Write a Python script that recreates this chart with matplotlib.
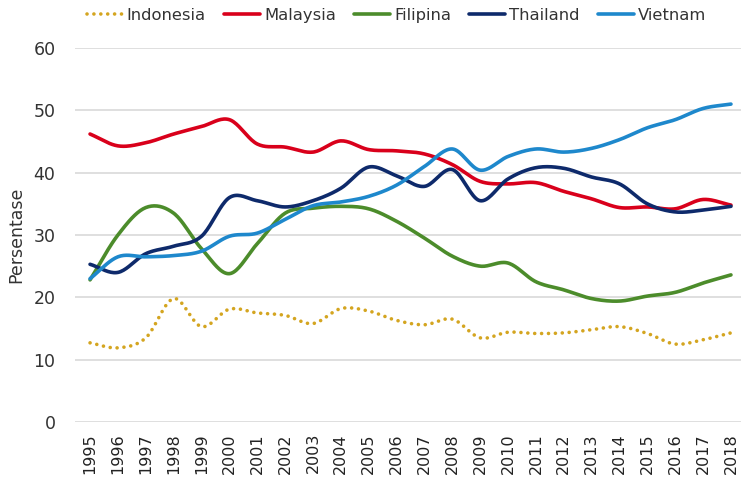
import matplotlib
matplotlib.use("Agg")
import matplotlib.pyplot as plt
import numpy as np

years = list(range(1995, 2019))

indonesia = [12.7, 11.9, 13.5, 19.8, 15.3, 18.1, 17.5, 17.1, 15.8, 18.2, 17.8, 16.3,
             15.6, 16.5, 13.5, 14.4, 14.2, 14.3, 14.8, 15.3, 14.2, 12.5, 13.2, 14.3]
malaysia = [46.2, 44.3, 44.8, 46.2, 47.4, 48.5, 44.6, 44.1, 43.3, 45.1, 43.7, 43.5,
            43.0, 41.3, 38.6, 38.2, 38.4, 37.0, 35.8, 34.4, 34.5, 34.2, 35.7, 34.8]
filipina = [22.8, 30.0, 34.4, 33.5, 27.8, 23.8, 28.6, 33.5, 34.3, 34.6, 34.2, 32.2,
            29.5, 26.6, 25.0, 25.5, 22.5, 21.2, 19.8, 19.4, 20.2, 20.8, 22.3, 23.6]
thailand = [25.3, 24.0, 27.0, 28.2, 29.8, 36.0, 35.5, 34.5, 35.5, 37.5, 40.9, 39.5,
            37.8, 40.5, 35.5, 39.0, 40.8, 40.7, 39.3, 38.2, 35.0, 33.7, 34.0, 34.6]
vietnam = [23.0, 26.5, 26.5, 26.7, 27.4, 29.8, 30.3, 32.5, 34.7, 35.3, 36.2, 38.0,
           41.0, 43.8, 40.4, 42.6, 43.8, 43.3, 43.9, 45.3, 47.2, 48.5, 50.3, 51.0]


def smooth(x, y, n=20):
    # catmull-rom like excel "smoothed line"
    x = np.asarray(x, float)
    y = np.asarray(y, float)
    px = np.concatenate([[2 * x[0] - x[1]], x, [2 * x[-1] - x[-2]]])
    py = np.concatenate([[2 * y[0] - y[1]], y, [2 * y[-1] - y[-2]]])
    xs, ys = [], []
    t = np.linspace(0, 1, n, endpoint=False)
    for i in range(1, len(px) - 2):
        for p, out in ((px, xs), (py, ys)):
            p0, p1, p2, p3 = p[i - 1], p[i], p[i + 1], p[i + 2]
            out.extend(0.5 * ((2 * p1) + (-p0 + p2) * t
                              + (2 * p0 - 5 * p1 + 4 * p2 - p3) * t ** 2
                              + (-p0 + 3 * p1 - 3 * p2 + p3) * t ** 3))
    xs.append(x[-1])
    ys.append(y[-1])
    return xs, ys


plt.rcParams['font.family'] = ['DejaVu Sans']

fig = plt.figure(figsize=(7.41, 4.80), dpi=100)
ax = fig.add_axes([75 / 741, 58 / 480, 666 / 741, 374 / 480])

series = [
    ("Indonesia", indonesia, "#D4A520", (0, (0.01, 1.9))),
    ("Malaysia", malaysia, "#D9001B", "-"),
    ("Filipina", filipina, "#4C8C2B", "-"),
    ("Thailand", thailand, "#0E2A6B", "-"),
    ("Vietnam", vietnam, "#1E88CC", "-"),
]
for name, vals, col, ls in series:
    sx, sy = smooth(years, vals)
    ax.plot(sx, sy, color=col, lw=2.6, ls=ls, label=name, solid_capstyle='round',
            dash_capstyle='round')

ax.set_xlim(1994.46, 2018.36)
ax.set_ylim(0, 60)
ax.set_yticks(range(0, 61, 10))
ax.set_xticks(years)
ax.set_xticklabels([str(y) for y in years], rotation=90, fontsize=11.5, color="#222222")
ax.tick_params(axis='y', labelsize=12.5, colors="#333333", length=0, pad=14)
ax.tick_params(axis='x', length=0, pad=8)
ax.grid(axis='y', color="#D9D9D9", lw=1.2)
ax.set_axisbelow(True)
for s in ax.spines.values():
    s.set_visible(False)
ax.set_ylabel("Persentase", fontsize=12.5, color="#333333")
ax.yaxis.set_label_coords(-0.075, 0.5)

fig.legend(loc='center', bbox_to_anchor=(0.535, 0.968), ncol=5, frameon=False,
           fontsize=11.8, handlelength=2.2, handletextpad=0.25, columnspacing=1.1,
           labelcolor="#333333")

fig.savefig("out.png", dpi=100)
